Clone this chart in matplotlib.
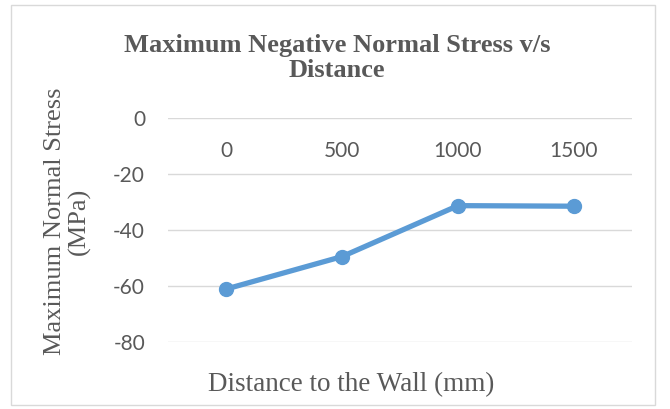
import matplotlib
matplotlib.use("Agg")
import matplotlib.pyplot as plt
from matplotlib.patches import Rectangle
from matplotlib.transforms import blended_transform_factory

distance = ["0", "500", "1000", "1500"]
stress = [-61.1, -49.5, -31.3, -31.5]
yticks = [0, -20, -40, -60, -80]

serif = "Liberation Serif"
sans = "Lato"
grey = "#595959"
blue = "#5B9BD5"

fig = plt.figure(figsize=(6.7, 4.09), dpi=100)
fig.patch.set_facecolor("white")

# light frame around the whole chart
fig.patches.append(Rectangle((11 / 670, 1 - 405 / 409), 644 / 670, 400 / 409,
                             transform=fig.transFigure, fill=False,
                             edgecolor="#D9D9D9", linewidth=1.0))

ax = fig.add_axes([168 / 670, 1 - 342 / 409, 464 / 670, 224 / 409])
x = list(range(len(distance)))
ax.plot(x, stress, color=blue, linewidth=3.8, marker="o", markersize=10,
        solid_capstyle="round", zorder=3)

ax.set_xlim(-0.5, len(distance) - 0.5)
ax.set_ylim(-80, 0)
ax.set_yticks(yticks)
ax.set_yticklabels([str(v) for v in yticks], fontfamily=sans, fontsize=15, color=grey)
ax.set_xticks([])
ax.tick_params(axis="y", length=0, pad=16.5)
ax.grid(axis="y", color="#D9D9D9", linewidth=1.0)
ax.set_axisbelow(True)
for s in ax.spines.values():
    s.set_visible(False)

# category labels sit just under the zero line
trans = blended_transform_factory(ax.transData, ax.transAxes)
for i, lab in enumerate(distance):
    ax.text(i, 1 - 33 / 224, lab, transform=trans, ha="center", va="center",
            fontfamily=sans, fontsize=15, color=grey)

fig.text(337 / 670, 1 - 58 / 409,
         "Maximum Negative Normal Stress v/s\nDistance", ha="center", va="center",
         fontfamily=serif, fontweight="bold", fontsize=19, color=grey, linespacing=1.12)
fig.text(67 / 670, 1 - 221 / 409, "Maximum Normal Stress\n(MPa)", rotation=90,
         ha="center", va="center", fontfamily=serif, fontsize=19, color=grey,
         linespacing=1.1)
fig.text(351 / 670, 1 - 385 / 409, "Distance to the Wall (mm)", ha="center",
         va="center", fontfamily=serif, fontsize=19.5, color=grey)

fig.savefig("out.png", dpi=100)
